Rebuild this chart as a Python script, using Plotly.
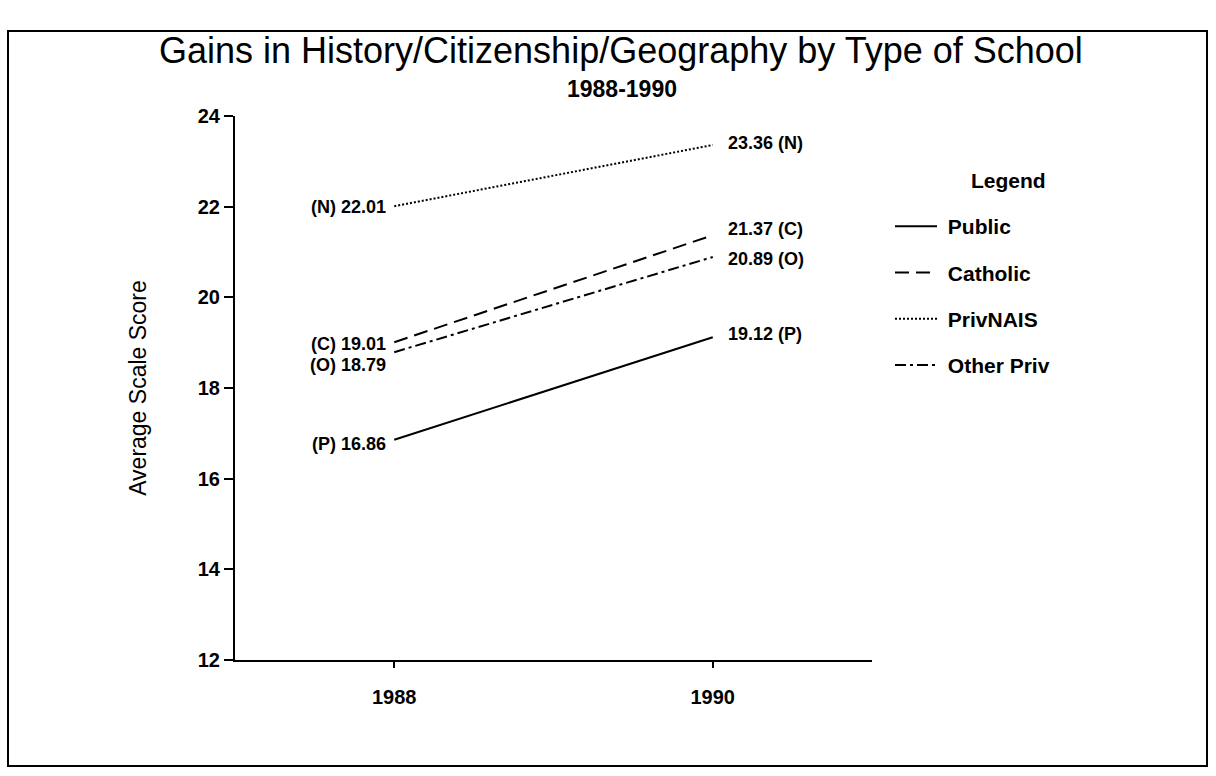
import plotly.graph_objects as go

# Average scale scores by school type, 1988 and 1990
years = [1988, 1990]
school_types = ["Public", "Catholic", "PrivNAIS", "Other Priv"]
type_codes = ["P", "C", "N", "O"]
public = [16.86, 19.12]
catholic = [19.01, 21.37]
privnais = [22.01, 23.36]
other_priv = [18.79, 20.89]
y_ticks = [12, 14, 16, 18, 20, 22, 24]

series = [public, catholic, privnais, other_priv]

# line styles per school type
dashes = ["solid", "14px,7px", "2px,2px", "11px,4px,3px,4px"]
# small vertical nudges (px) so the value labels do not collide
left_nudge = [-4, -2, -1, -13]
right_nudge = [3, 6, 2, -2]

W, H = 1216, 776
ML, MR, MT, MB = 235, 344, 116, 116
PW, PH = W - ML - MR, H - MT - MB
FONT = "Liberation Sans, Arial, Helvetica, sans-serif"
NBSP = "\u00a0"


def px_x(x):
    return (x - ML) / PW


def px_y(y):
    return (H - MB - y) / PH


fig = go.Figure()
for name, vals, dash in zip(school_types, series, dashes):
    fig.add_trace(go.Scatter(
        x=years, y=vals, mode="lines", name=NBSP + name, legendgroup=name,
        line=dict(color="black", width=2, dash=dash),
        hoverinfo="skip",
    ))

label_font = dict(size=18, color="black", family=FONT, weight="bold")
annotations = []
for code, vals, ln, rn in zip(type_codes, series, left_nudge, right_nudge):
    annotations.append(dict(
        x=years[0], y=vals[0], xref="x", yref="y",
        text=f"({code}) {vals[0]:.2f}", showarrow=False,
        xanchor="right", yanchor="middle", xshift=-6, yshift=ln,
        font=label_font,
    ))
    annotations.append(dict(
        x=years[1], y=vals[1], xref="x", yref="y",
        text=f"{vals[1]:.2f} ({code})", showarrow=False,
        xanchor="left", yanchor="middle", xshift=13, yshift=rn,
        font=label_font,
    ))

annotations.append(dict(
    x=px_x(621), y=px_y(50), xref="paper", yref="paper",
    text="Gains in History/Citizenship/Geography by Type of School",
    showarrow=False, xanchor="center", yanchor="middle",
    font=dict(size=36, color="black", family=FONT),
))
annotations.append(dict(
    x=px_x(622), y=px_y(89), xref="paper", yref="paper",
    text="1988-1990", showarrow=False, xanchor="center", yanchor="middle",
    font=dict(size=23, color="black", family=FONT, weight="bold"),
))
annotations.append(dict(
    x=px_x(1008), y=px_y(180), xref="paper", yref="paper",
    text="Legend", showarrow=False, xanchor="center", yanchor="middle",
    font=dict(size=21, color="black", family=FONT, weight="bold"),
))

fig.add_shape(
    type="rect", xref="paper", yref="paper",
    x0=px_x(8), x1=px_x(1207), y0=px_y(766), y1=px_y(31),
    line=dict(color="black", width=2), fillcolor="rgba(0,0,0,0)",
)

fig.update_layout(
    width=W, height=H,
    margin=dict(l=ML, r=MR, t=MT, b=MB, autoexpand=False),
    paper_bgcolor="white", plot_bgcolor="white",
    font=dict(family=FONT, color="black"),
    showlegend=True,
    legend=dict(
        x=px_x(890), y=px_y(206), xanchor="left", yanchor="top",
        font=dict(size=21, family=FONT, color="black", weight="bold"),
        tracegroupgap=16, itemwidth=42, bgcolor="rgba(0,0,0,0)",
        traceorder="grouped",
    ),
    annotations=annotations,
)

fig.update_xaxes(
    range=[1987, 1991], tickvals=years, ticktext=[str(y) for y in years],
    showline=True, linecolor="black", linewidth=2, showgrid=False,
    zeroline=False, ticks="outside", ticklen=6, tickwidth=1.5,
    tickcolor="black",
    tickfont=dict(size=20, family=FONT, color="black", weight="bold"),
    ticklabelstandoff=12,
)
fig.update_yaxes(
    range=[12, 24], tickvals=y_ticks,
    showline=True, linecolor="black", linewidth=2, showgrid=False,
    zeroline=False, ticks="outside", ticklen=9, tickwidth=1.5,
    tickcolor="black",
    tickfont=dict(size=20, family=FONT, color="black", weight="bold"),
    title=dict(text="Average Scale Score", standoff=45,
               font=dict(size=23, family=FONT, color="black")),
)

fig.write_html("out.html")
